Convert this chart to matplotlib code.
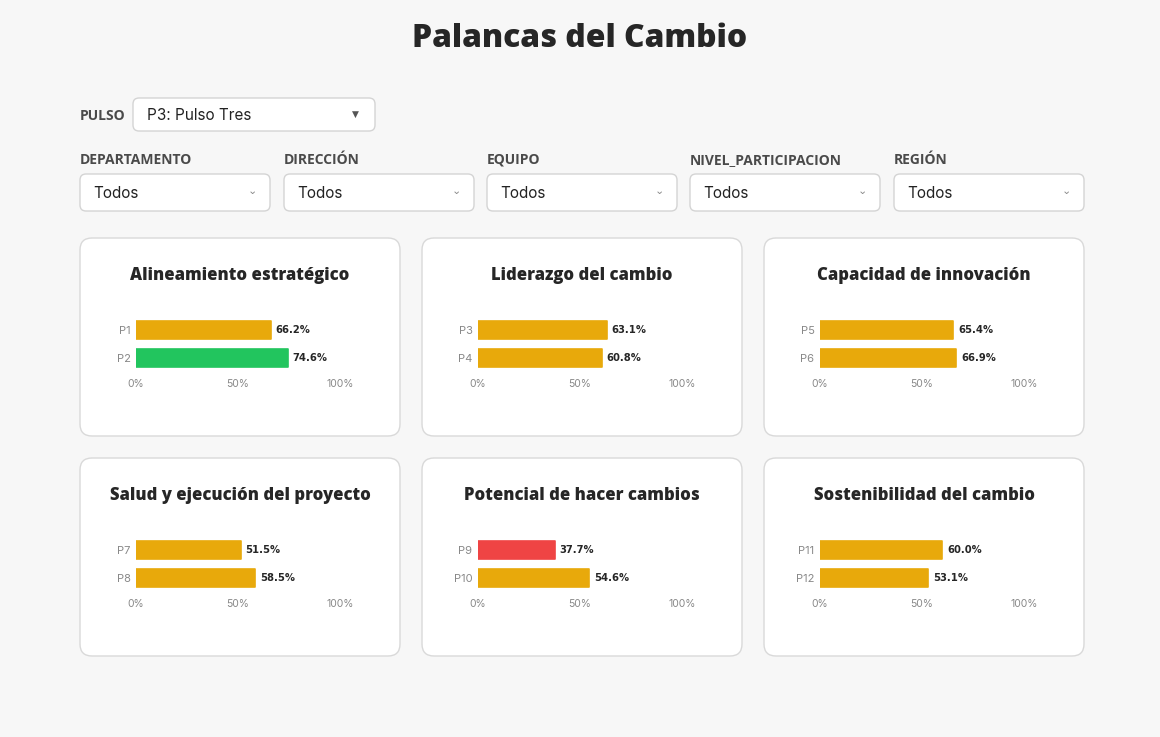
import matplotlib.pyplot as plt
from matplotlib.patches import FancyBboxPatch

# data
titulo = "Palancas del Cambio"
filtros = ["DEPARTAMENTO", "DIRECCIÓN", "EQUIPO", "NIVEL_PARTICIPACION", "REGIÓN"]
pulso = "P3: Pulso Tres"
palancas = ["Alineamiento estratégico", "Liderazgo del cambio", "Capacidad de innovación",
            "Salud y ejecución del proyecto", "Potencial de hacer cambios", "Sostenibilidad del cambio"]
preguntas = [["P1", "P2"], ["P3", "P4"], ["P5", "P6"],
             ["P7", "P8"], ["P9", "P10"], ["P11", "P12"]]
valores = [[66.2, 74.6], [63.1, 60.8], [65.4, 66.9],
           [51.5, 58.5], [37.7, 54.6], [60.0, 53.1]]
ticks = [0, 50, 100]

W, H = 1160, 737
fig = plt.figure(figsize=(W / 100, H / 100), dpi=100)
fig.patch.set_facecolor("#f7f7f7")
FONT = ["Open Sans", "DejaVu Sans"]
BODY = ["Inter", "DejaVu Sans"]


def fx(x):
    return x / W


def fy(y):
    return 1 - y / H


def caja(x0, y0, x1, y1, r=6, ec="#d4d4d4", lw=1.0):
    p = FancyBboxPatch((fx(x0), fy(y1)), fx(x1 - x0), (y1 - y0) / H,
                       boxstyle=f"round,pad=0,rounding_size={r / W}",
                       mutation_aspect=W / H, transform=fig.transFigure,
                       facecolor="white", edgecolor=ec, linewidth=lw, zorder=-1)
    fig.patches.append(p)


def color_de(v):
    if v >= 70:
        return "#22c55e"
    if v < 40:
        return "#ef4444"
    return "#e8a90b"


# title
fig.text(fx(580), fy(39), titulo, ha="center", va="center", fontsize=22.9,
         fontweight=800, color="#262626", family=FONT)

# pulso selector
fig.text(fx(80), fy(116), "PULSO", ha="left", va="center", fontsize=10,
         fontweight="bold", color="#4a4a4a", family=FONT)
caja(133, 98, 375, 131)
fig.text(fx(147), fy(116), pulso, ha="left", va="center", fontsize=11,
         color="#222222", family=BODY)
fig.text(fx(355), fy(114), "▼", ha="center", va="center", fontsize=6.5,
         color="#555555")

# filter dropdowns
fx0 = [80, 284, 487, 690, 894]
for nombre, x0 in zip(filtros, fx0):
    fig.text(fx(x0), fy(160), nombre, ha="left", va="center", fontsize=10,
             fontweight="bold", color="#4a4a4a", family=FONT)
    caja(x0, 174, x0 + 190, 211)
    fig.text(fx(x0 + 13), fy(194), "Todos", ha="left", va="center", fontsize=11,
             color="#222222", family=BODY)
    fig.text(fx(x0 + 172), fy(191), "⌄", ha="center", va="center", fontsize=8,
             color="#888888", family=["DejaVu Sans"])

# cards
card_x = [80, 422, 764]
card_y = [238, 458]
for i, (nom, preg, vals) in enumerate(zip(palancas, preguntas, valores)):
    cx = card_x[i % 3]
    cy = card_y[i // 3]
    caja(cx, cy, cx + 320, cy + 198, r=12, ec="#d9d9d9")
    fig.text(fx(cx + 160), fy(cy + 37), nom, ha="center", va="center", fontsize=12,
             fontweight=800, color="#262626", family=FONT)

    ax0, ax1 = cx + 56, cx + 260
    ay0, ay1 = cy + 78, cy + 134
    ax = fig.add_axes([fx(ax0), fy(ay1), (ax1 - ax0) / W, (ay1 - ay0) / H])
    ax.set_zorder(1)
    ax.set_facecolor("none")
    ypos = list(range(len(preg)))
    cols = [color_de(v) for v in vals]
    bars = ax.barh(ypos, vals, height=0.66, color=cols, edgecolor=cols,
                   linewidth=1.2)
    for b in bars:
        b.set_joinstyle("round")
    for y, v in zip(ypos, vals):
        ax.text(v + 2.2, y, f"{v:.1f}%", ha="left", va="center", fontsize=7.2,
                fontweight="bold", color="#262626", family=["DejaVu Sans"])
    ax.set_xlim(0, 100)
    ax.set_ylim(len(preg) - 0.5, -0.5)
    ax.set_yticks(ypos)
    ax.set_yticklabels(preg, fontsize=8, color="#888888", family=BODY)
    ax.set_xticks(ticks)
    ax.set_xticklabels([f"{t}%" for t in ticks], fontsize=7.5, color="#888888",
                       family=BODY)
    ax.tick_params(length=0, pad=4)
    ax.tick_params(axis="x", pad=5)
    for s in ax.spines.values():
        s.set_visible(False)

fig.savefig("out.png", dpi=100, facecolor=fig.get_facecolor())
